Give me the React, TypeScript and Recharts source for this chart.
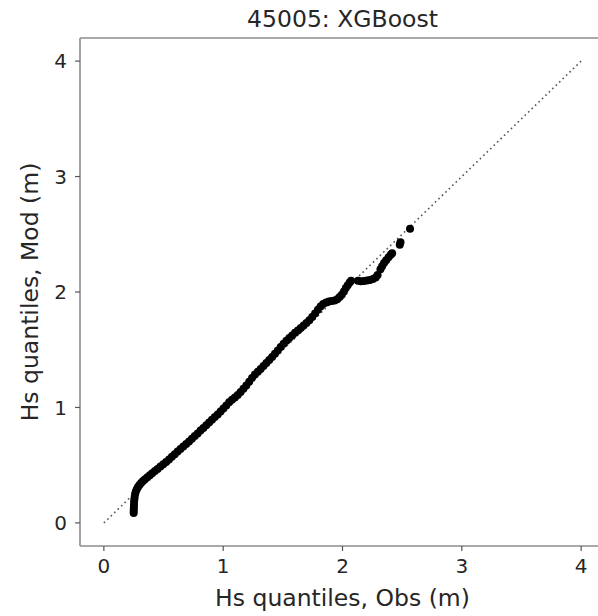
import React from 'react';
import {
  ScatterChart,
  Scatter,
  XAxis,
  YAxis,
  ReferenceLine,
} from 'recharts';

// Observed Hs quantiles (m)
const obsQuantiles = [
  0.250, 0.250, 0.251, 0.252, 0.253, 0.255, 0.258, 0.262, 0.268, 0.276,
  0.286, 0.298, 0.312, 0.328, 0.345, 0.365, 0.385, 0.405, 0.428, 0.450,
  0.474, 0.498, 0.522, 0.546, 0.570, 0.594, 0.618, 0.642, 0.666, 0.690,
  0.714, 0.738, 0.762, 0.786, 0.810, 0.834, 0.858, 0.882, 0.906, 0.930,
  0.954, 0.978, 1.002, 1.026, 1.050, 1.074, 1.098, 1.122, 1.146, 1.170,
  1.194, 1.218, 1.242, 1.266, 1.290, 1.314, 1.338, 1.362, 1.386, 1.410,
  1.434, 1.458, 1.482, 1.506, 1.530, 1.554, 1.578, 1.602, 1.626, 1.650,
  1.674, 1.698, 1.722, 1.746, 1.770, 1.794, 1.816, 1.838, 1.862, 1.886,
  1.910, 1.934, 1.956, 1.976, 1.994, 2.012, 2.028, 2.044, 2.060, 2.072,
  2.130, 2.155, 2.180, 2.205, 2.230, 2.255, 2.278, 2.294,
  2.318, 2.332, 2.348, 2.366, 2.386, 2.404, 2.416,
  2.480, 2.486, 2.566,
];

// XGBoost-modelled Hs quantiles (m)
const modQuantiles = [
  0.085, 0.105, 0.125, 0.150, 0.175, 0.200, 0.225, 0.250, 0.272, 0.292,
  0.310, 0.328, 0.345, 0.362, 0.378, 0.395, 0.412, 0.430, 0.450, 0.468,
  0.488, 0.508, 0.528, 0.550, 0.572, 0.594, 0.618, 0.640, 0.662, 0.684,
  0.706, 0.728, 0.752, 0.775, 0.800, 0.822, 0.846, 0.870, 0.893, 0.917,
  0.940, 0.965, 0.990, 1.018, 1.044, 1.066, 1.086, 1.108, 1.134, 1.162,
  1.190, 1.222, 1.256, 1.286, 1.310, 1.332, 1.358, 1.384, 1.410, 1.438,
  1.466, 1.494, 1.524, 1.552, 1.578, 1.602, 1.624, 1.646, 1.666, 1.688,
  1.710, 1.732, 1.756, 1.784, 1.814, 1.846, 1.874, 1.896, 1.910, 1.918,
  1.922, 1.926, 1.938, 1.956, 1.976, 2.004, 2.034, 2.058, 2.082, 2.098,
  2.098, 2.094, 2.096, 2.100, 2.104, 2.112, 2.126, 2.148,
  2.196, 2.222, 2.252, 2.276, 2.300, 2.322, 2.336,
  2.410, 2.430, 2.548,
];

const axisTicks = [0, 1, 2, 3, 4];
const axisDomain: [number, number] = [-0.2, 4.2];
const oneToOne = [0, 4];

const chartTitle = '45005: XGBoost';
const xLabel = 'Hs quantiles, Obs (m)';
const yLabel = 'Hs quantiles, Mod (m)';

const qqData = obsQuantiles.map((obs, i) => ({ obs, mod: modQuantiles[i] }));

const FONT = '"DejaVu Sans", sans-serif';
const TEXT = '#262626';
const SPINE = '#8c8c8c';

const Dot = (props: any) => (
  <circle cx={props.cx} cy={props.cy} r={4} fill="#000" />
);

export default function App() {
  return (
    <div
      style={{
        position: 'absolute',
        left: 0,
        top: 0,
        width: 598,
        height: 616,
        overflow: 'hidden',
        background: '#fff',
      }}
    >
      <div
        style={{
          position: 'absolute',
          left: 80,
          width: 525,
          top: 6,
          textAlign: 'center',
          fontFamily: FONT,
          fontSize: 23.5,
          color: TEXT,
          lineHeight: 1.164,
        }}
      >
        {chartTitle}
      </div>
      {/* the axes box runs a few pixels past the right edge of the figure */}
      <ScatterChart
        width={598}
        height={616}
        margin={{ top: 38, right: -7, bottom: 0, left: 20 }}
        style={{ overflow: 'hidden' }}
      >
        <XAxis
          type="number"
          dataKey="obs"
          domain={axisDomain}
          ticks={axisTicks}
          allowDataOverflow
          height={70}
          stroke={SPINE}
          strokeWidth={1.6}
          tickSize={5}
          tickMargin={8}
          tick={{ fill: TEXT, fontSize: 20, fontFamily: FONT }}
          tickLine={{ stroke: '#555', strokeWidth: 1.2 }}
          label={{
            value: xLabel,
            position: 'insideBottom',
            offset: 10,
            style: { fill: TEXT, fontSize: 23.5, fontFamily: FONT },
          }}
        />
        <YAxis
          type="number"
          dataKey="mod"
          domain={axisDomain}
          ticks={axisTicks}
          allowDataOverflow
          width={60}
          stroke={SPINE}
          strokeWidth={1.6}
          tickSize={5}
          tickMargin={8}
          tick={{ fill: TEXT, fontSize: 20, fontFamily: FONT }}
          tickLine={{ stroke: '#555', strokeWidth: 1.2 }}
          label={{
            value: yLabel,
            angle: -90,
            position: 'insideLeft',
            offset: 10,
            style: { fill: TEXT, fontSize: 23.5, fontFamily: FONT, textAnchor: 'middle' },
          }}
        />
        <ReferenceLine y={4.2} stroke={SPINE} strokeWidth={1.6} />
        <ReferenceLine
          segment={[
            { x: oneToOne[0], y: oneToOne[0] },
            { x: oneToOne[1], y: oneToOne[1] },
          ]}
          stroke="#555"
          strokeWidth={1.6}
          strokeDasharray="1.6 3.2"
        />
        <Scatter
          data={qqData}
          fill="#000"
          shape={Dot}
          isAnimationActive={false}
        />
      </ScatterChart>
    </div>
  );
}
